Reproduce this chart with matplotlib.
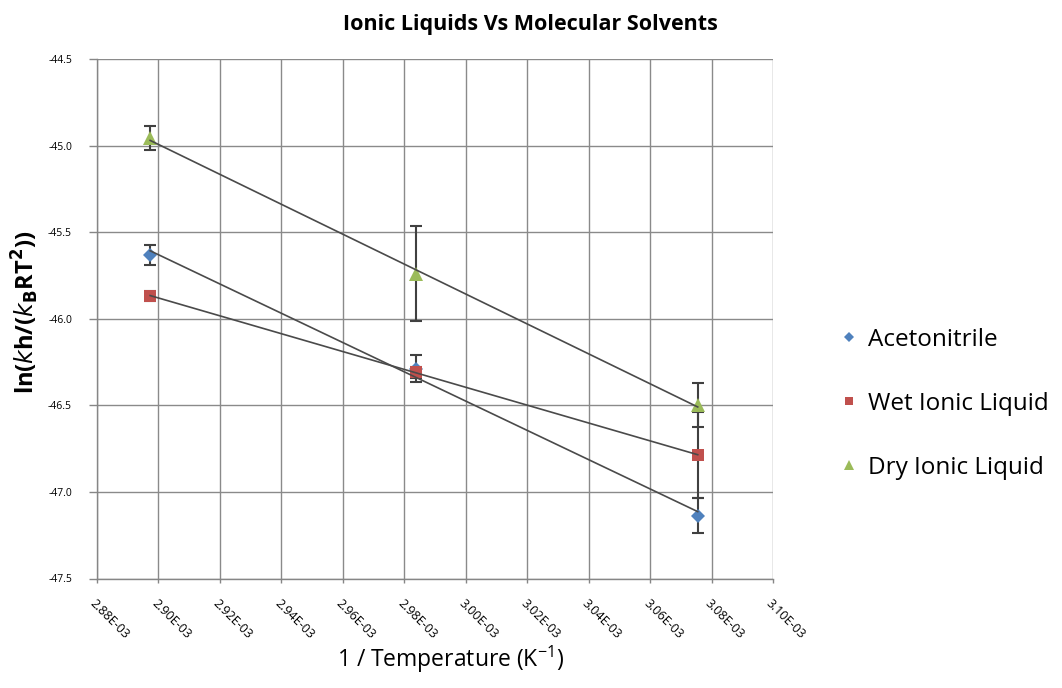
import matplotlib
matplotlib.use('Agg')
import matplotlib.pyplot as plt
import numpy as np

# inverse temperature (1/K)
inv_temp = [2.8973e-3, 2.9837e-3, 3.0755e-3]

# ln(kh/(kB R T^2)) per solvent, with error bars
acetonitrile = [-45.632, -46.29, -47.137]
acetonitrile_err = [0.06, 0.078, 0.10]
wet_il = [-45.867, -46.31, -46.786]
wet_il_err = [0.03, 0.03, 0.25]
dry_il = [-44.958, -45.74, -46.498]
dry_il_err = [0.07, 0.275, 0.127]

series_names = ['Acetonitrile', 'Wet Ionic Liquid', 'Dry Ionic Liquid']
x_ticks = np.arange(2.88e-3, 3.1001e-3, 0.02e-3)
y_ticks = np.arange(-47.5, -44.49, 0.5)

FONT = 'Open Sans'

fig = plt.figure(figsize=(10.62, 6.88), dpi=100)
ax = fig.add_axes([97 / 1062, 1 - 578.5 / 688, (773 - 97) / 1062, (578.5 - 59) / 688])

styles = [
    (acetonitrile, acetonitrile_err, 'D', '#4F81BD', 6.8),
    (wet_il, wet_il_err, 's', '#C0504D', 8.5),
    (dry_il, dry_il_err, '^', '#9BBB59', 9.5),
]

x = np.array(inv_temp)
for (y, err, marker, color, ms), name in zip(styles, series_names):
    ax.errorbar(x, y, yerr=err, fmt='none', ecolor='#404040',
                elinewidth=1.5, capsize=4, capthick=1.5, zorder=3)
    ax.plot(x, y, linestyle='none', marker=marker, color=color,
            markersize=ms, markeredgewidth=0, label=name, zorder=4)
    # linear trendline
    k, b = np.polyfit(x, y, 1)
    ax.plot(x[[0, -1]], k * x[[0, -1]] + b, '-', color='#4a4a4a',
            linewidth=1.2, zorder=5)

ax.set_xlim(2.88e-3, 3.10e-3)
ax.set_ylim(-47.5, -44.5)
ax.set_xticks(x_ticks)
ax.set_yticks(y_ticks)
ax.set_xticklabels([f'{v:.2E}' for v in x_ticks])
ax.set_yticklabels([f'{v:.1f}' for v in y_ticks])

for lbl in ax.get_xticklabels():
    lbl.set_rotation(-45)
    lbl.set_ha('left')
    lbl.set_va('top')
    lbl.set_rotation_mode('anchor')
    lbl.set_fontfamily(FONT)
    lbl.set_fontsize(9)
for lbl in ax.get_yticklabels():
    lbl.set_fontfamily(FONT)
    lbl.set_fontsize(7.5)

ax.tick_params(axis='x', length=3, width=1, color='#868686', pad=10)
ax.tick_params(axis='y', length=6, width=1, color='#868686', pad=12)

ax.grid(True, color='#8a8a8a', linewidth=1)
ax.set_axisbelow(True)
for side in ['top', 'right']:
    ax.spines[side].set_visible(False)
for side in ['left', 'bottom']:
    ax.spines[side].set_color('#868686')
    ax.spines[side].set_linewidth(1)

fig.text(0.499, 0.965, 'Ionic Liquids Vs Molecular Solvents',
         ha='center', va='center', fontsize=15.5, fontweight='bold',
         fontfamily=FONT)
fig.text(0.424, 0.041, '1 / Temperature (K$^{\\mathregular{-1}}$)',
         ha='center', va='center', fontsize=16.5, fontfamily=FONT)
fig.text(0.024, 0.547, r'ln($\mathbf{\mathit{k}}$h/($\mathbf{\mathit{k}}_{\mathbf{B}}$RT$^{\mathbf{2}}$))',
         ha='center', va='center', rotation=90, fontsize=17,
         fontweight='bold', fontfamily=FONT)

leg = fig.legend(loc='center left', bbox_to_anchor=(0.77, 0.413),
                 frameon=False, markerscale=0.75, handlelength=0.8,
                 handletextpad=0.35, labelspacing=1.65,
                 prop={'family': FONT, 'size': 17.5})

fig.savefig('out.png', dpi=100)
